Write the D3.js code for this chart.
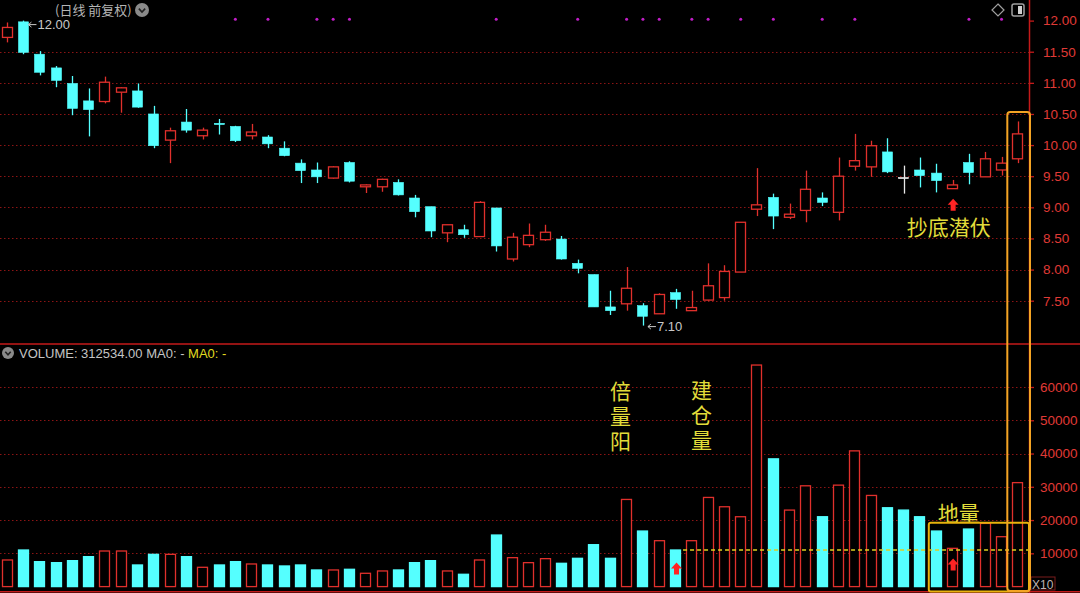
<!DOCTYPE html>
<html><head><meta charset="utf-8">
<script src="https://cdn.jsdelivr.net/npm/d3@7"></script>
<style>html,body{margin:0;padding:0;background:#000;overflow:hidden}</style>
</head><body><svg id="c" width="1080" height="593"></svg>
<script>
// ---------- DATA ----------
const openP  = [11.73,11.98,11.46,11.24,10.99,10.71,10.70,10.85,10.87,10.50,10.08,10.37,10.15,10.35,10.30,10.15,10.13,9.95,9.71,9.60,9.47,9.72,9.33,9.33,9.40,9.15,9.01,8.59,8.64,8.53,8.99,8.17,8.40,8.48,8.49,8.10,7.92,7.40,7.45,7.42,7.29,7.63,7.34,7.51,7.55,7.96,8.97,9.16,8.84,8.95,9.15,8.92,9.66,9.65,9.89,9.48,9.60,9.55,9.30,9.72,9.49,9.60,9.78];
const highP  = [11.97,12.00,11.51,11.27,11.11,10.91,11.10,10.93,10.99,10.63,10.28,10.58,10.28,10.42,10.31,10.34,10.16,10.06,9.77,9.72,9.66,9.74,9.37,9.46,9.45,9.20,9.01,8.72,8.72,9.10,8.99,8.59,8.74,8.72,8.54,8.16,7.92,7.66,8.04,7.46,7.62,7.69,7.66,8.10,8.07,8.76,9.63,9.22,9.06,9.59,9.24,9.80,10.18,10.07,10.11,9.67,9.80,9.70,9.44,9.86,9.89,9.81,10.38];
const lowP   = [11.65,11.46,11.12,10.93,10.48,10.14,10.67,10.52,10.60,9.95,9.71,10.20,10.09,10.17,10.05,10.09,9.95,9.82,9.39,9.39,9.46,9.40,9.23,9.25,9.19,8.84,8.52,8.44,8.51,8.53,8.29,8.13,8.36,8.46,8.16,7.94,7.40,7.27,7.34,7.10,7.29,7.37,7.34,7.50,7.50,7.96,8.86,8.65,8.81,8.76,9.02,8.79,9.59,9.49,9.55,9.22,9.32,9.24,9.30,9.37,9.49,9.51,9.71];
const closeP = [11.89,11.49,11.17,11.04,10.59,10.57,11.01,10.92,10.61,9.99,10.23,10.24,10.24,10.33,10.07,10.21,10.02,9.83,9.59,9.49,9.65,9.42,9.36,9.45,9.20,8.93,8.62,8.72,8.56,9.08,8.38,8.52,8.55,8.60,8.17,8.02,7.40,7.34,7.70,7.25,7.60,7.52,7.39,7.74,7.97,8.76,9.04,8.86,8.89,9.29,9.08,9.50,9.75,9.99,9.57,9.48,9.51,9.43,9.36,9.56,9.78,9.71,10.18];
const volume = [8000,11000,7500,7200,7800,9000,10700,10700,6500,9700,9700,9000,5800,6500,7500,6800,6500,6200,6500,5000,5000,5200,4000,4700,5000,7200,7800,4700,3700,8000,15500,8700,7200,8400,7000,8500,12600,8500,26200,16700,13800,11000,13800,26800,24000,21000,66600,38400,23000,30300,21000,30500,40800,27400,23700,23000,21000,16700,11500,17300,19000,15000,31253.4];
const priceTicks = [12.00,11.50,11.00,10.50,10.00,9.50,9.00,8.50,8.00,7.50];
const priceGrid  = [11.50,11.00,10.50,10.00,9.50,9.00,8.50,8.00,7.50];
const volTicks   = [10000,20000,30000,40000,50000,60000];
const eventDots  = [14,16,19,20,21,30,35,38,39,40,42,43,45,47,50,52,59,61];
const volMultiplier = 10;

// ---------- LAYOUT ----------
const W = 1080, H = 593;
const axisX = 1029;
const svg = d3.select("#c");
const idx = d3.range(openP.length);
const x = d3.scaleBand().domain(idx).range([-1, 1026]).paddingInner(0.32).paddingOuter(0.16);
const bw = x.bandwidth();
const cx = i => x(i) + bw / 2;
const y = d3.scaleLinear().domain([7.5, 12]).range([300.7, 20.6]);
const yv = d3.scaleLinear().domain([0, 60000]).range([586.6, 387]);

const RED = "#e0302c", CYAN = "#55ffff", GRID = "#8c1414", AXIS = "#c41a1a", LBL = "#e03a36";
const YEL = "#e2dc3a";
const latin = "'Liberation Sans', Arial, sans-serif";
const cjk = "'Noto Sans CJK SC', sans-serif";

svg.append("rect").attr("width", W).attr("height", H).attr("fill", "#000");

// grids
svg.append("g").selectAll("line").data(priceGrid).join("line")
  .attr("x1", 0).attr("x2", axisX).attr("y1", d => Math.round(y(d)) + 0.5).attr("y2", d => Math.round(y(d)) + 0.5)
  .attr("stroke", GRID).attr("stroke-dasharray", "1.5,2.5");
svg.append("g").selectAll("line").data(volTicks).join("line")
  .attr("x1", 0).attr("x2", axisX).attr("y1", d => Math.round(yv(d)) + 0.5).attr("y2", d => Math.round(yv(d)) + 0.5)
  .attr("stroke", GRID).attr("stroke-dasharray", "1.5,2.5");

// divider & bottom lines
svg.append("line").attr("x1", 0).attr("x2", W).attr("y1", 344).attr("y2", 344).attr("stroke", AXIS).attr("stroke-width", 1.5);
svg.append("line").attr("x1", 0).attr("x2", W).attr("y1", 591.8).attr("y2", 591.8).attr("stroke", AXIS).attr("stroke-width", 1.5);

// event dots
svg.append("g").selectAll("circle").data(eventDots).join("circle")
  .attr("cx", d => cx(d)).attr("cy", 19.3).attr("r", 1.5).attr("fill", "#c21ec8");

// candles
const kind = i => closeP[i] > openP[i] ? "up" : (closeP[i] < openP[i] ? "down" : "doji");
const col = i => kind(i) === "up" ? RED : (kind(i) === "down" ? CYAN : "#e8e8e8");
const cg = svg.append("g");
cg.selectAll("line.w").data(idx).join("line").attr("class", "w")
  .attr("x1", i => Math.round(cx(i)) + 0.5).attr("x2", i => Math.round(cx(i)) + 0.5)
  .attr("y1", i => y(highP[i])).attr("y2", i => y(lowP[i]))
  .attr("stroke", col).attr("stroke-width", 1.3);
cg.selectAll("rect").data(idx).join("rect")
  .attr("x", i => Math.round(x(i)) + 0.5)
  .attr("y", i => y(Math.max(openP[i], closeP[i])))
  .attr("width", Math.round(bw) - 1)
  .attr("height", i => Math.max(1.2, y(Math.min(openP[i], closeP[i])) - y(Math.max(openP[i], closeP[i]))))
  .attr("fill", i => kind(i) === "up" ? "#000" : col(i))
  .attr("stroke", col).attr("stroke-width", i => kind(i) === "up" ? 1.3 : 0.6);

// volume bars
svg.append("g").selectAll("rect").data(idx).join("rect")
  .attr("x", i => Math.round(x(i)) + 0.5)
  .attr("y", i => yv(volume[i]))
  .attr("width", Math.round(bw) - 1)
  .attr("height", i => yv(0) - yv(volume[i]))
  .attr("fill", i => kind(i) === "up" ? "#000" : CYAN)
  .attr("stroke", i => kind(i) === "up" ? RED : CYAN).attr("stroke-width", 1.3);

// axis line
svg.append("line").attr("x1", axisX + 0.5).attr("x2", axisX + 0.5).attr("y1", 0).attr("y2", H).attr("stroke", AXIS).attr("stroke-width", 1.5);

// right axes
function styleAxis(g) {
  g.select(".domain").remove();
  g.selectAll(".tick line").attr("stroke", AXIS).attr("stroke-width", 1.3);
  g.selectAll(".tick text").attr("fill", LBL).attr("font-size", 13.5).attr("font-family", latin);
}
svg.append("g").attr("transform", `translate(${axisX},0)`)
  .call(d3.axisRight(y).tickValues(priceTicks).tickFormat(d3.format(".2f")).tickSize(5).tickPadding(9))
  .call(styleAxis);
svg.append("g").attr("transform", `translate(${axisX},0)`)
  .call(d3.axisRight(yv).tickValues(volTicks).tickFormat(d3.format("d")).tickSize(5).tickPadding(6))
  .call(styleAxis);

// X10 box
svg.append("rect").attr("x", axisX + 2).attr("y", 577).attr("width", 24).attr("height", 13)
  .attr("fill", "none").attr("stroke", "#7a1c1c").attr("stroke-width", 1);
svg.append("text").attr("x", axisX + 3).attr("y", 588.5).text("X" + volMultiplier)
  .attr("fill", "#bfb3b3").attr("font-size", 12).attr("font-family", latin);

// header
svg.append("text").attr("x", 55).attr("y", 14.5).text("(日线 前复权)")
  .attr("fill", "#b4b4b4").attr("font-size", 13).attr("font-family", cjk);
function chevron(px, py, r) {
  svg.append("circle").attr("cx", px).attr("cy", py).attr("r", r).attr("fill", "#8a8a8a");
  svg.append("path").attr("d", `M${px - r * 0.45},${py - r * 0.2} L${px},${py + r * 0.3} L${px + r * 0.45},${py - r * 0.2}`)
    .attr("fill", "none").attr("stroke", "#222").attr("stroke-width", 1.6);
}
chevron(142, 10, 7);
chevron(8, 353, 6);
// top-right icons
svg.append("path").attr("d", "M998,4 L1004,10 L998,16 L992,10 Z").attr("fill", "none").attr("stroke", "#a0a0a0").attr("stroke-width", 1.2);
svg.append("rect").attr("x", 1012).attr("y", 4).attr("width", 12).attr("height", 12).attr("rx", 2)
  .attr("fill", "none").attr("stroke", "#a0a0a0").attr("stroke-width", 1.5);
svg.append("rect").attr("x", 1018).attr("y", 6).attr("width", 4).attr("height", 8).attr("fill", "#d0d0d0");

// volume header
const vh = svg.append("text").attr("x", 19).attr("y", 358).attr("font-size", 13).attr("font-family", latin);
vh.append("tspan").attr("fill", "#c4c4c4").text("VOLUME: " + d3.format(".2f")(volume[volume.length - 1] * volMultiplier) + " MA0: - ");
vh.append("tspan").attr("fill", "#e0dc20").text("MA0: -");

// high / low labels
const iHigh = d3.maxIndex(highP), iLow = d3.minIndex(lowP);
function extLabel(i, py, txt, dy) {
  const x0 = cx(i) + 5, x1 = cx(i) + 13;
  svg.append("path").attr("d", `M${x1},${py + dy} L${x0},${py + dy} M${x0 + 3},${py + dy - 2.5} L${x0},${py + dy} L${x0 + 3},${py + dy + 2.5}`)
    .attr("fill", "none").attr("stroke", "#c8c8c8").attr("stroke-width", 1);
  svg.append("text").attr("x", x1 + 1).attr("y", py + dy + 4.5).text(txt)
    .attr("fill", "#c8c8c8").attr("font-size", 13).attr("font-family", latin);
}
extLabel(iHigh, y(highP[iHigh]), d3.format(".2f")(highP[iHigh]), 4);
extLabel(iLow, y(lowP[iLow]), d3.format(".2f")(lowP[iLow]), 1);

// annotations
function vText(chars, px, topY) {
  svg.append("text").attr("x", px).attr("y", topY)
    .style("writing-mode", "vertical-rl").style("letter-spacing", "4px")
    .attr("fill", YEL).attr("font-size", 21).attr("font-family", cjk).text(chars);
}
vText("倍量阳", cx(38) - 6, 380.5);
vText("建仓量", cx(43) - 6.5, 379.5);
svg.append("text").attr("x", cx(58) - 4).attr("y", 225.5).text("抄底潜伏")
  .attr("text-anchor", "middle").attr("dominant-baseline", "central")
  .attr("fill", YEL).attr("font-size", 21).attr("font-family", cjk);
svg.append("text").attr("x", cx(58) + 6).attr("y", 511.5).text("地量")
  .attr("text-anchor", "middle").attr("dominant-baseline", "central")
  .attr("fill", YEL).attr("font-size", 21).attr("font-family", cjk);

// dashed level line at volume of bar 41
svg.append("line").attr("x1", x(41) + bw + 2).attr("x2", axisX).attr("y1", yv(volume[41])).attr("y2", yv(volume[41]))
  .attr("stroke", "#e0d020").attr("stroke-width", 1.4).attr("stroke-dasharray", "4,3");

// red arrows
function upArrow(px, top) {
  svg.append("path").attr("d", `M${px},${top} L${px + 5.5},${top + 6} L${px + 2.5},${top + 6} L${px + 2.5},${top + 12} L${px - 2.5},${top + 12} L${px - 2.5},${top + 6} L${px - 5.5},${top + 6} Z`)
    .attr("fill", "#ff2424");
}
upArrow(cx(58) + 0.5, y(lowP[58]) + 10);
upArrow(cx(41) + 1, yv(0) - 24);
upArrow(cx(58) + 0.5, yv(0) - 28);

// boxes
svg.append("rect").attr("x", x(57) - 2).attr("y", yv(19200)).attr("width", axisX - (x(57) - 2)).attr("height", 591.5 - yv(19200))
  .attr("rx", 2).attr("fill", "none").attr("stroke", "#e8b20c").attr("stroke-width", 2);
svg.append("rect").attr("x", x(62) - 5).attr("y", y(highP[62]) - 9.5).attr("width", axisX + 1 - (x(62) - 5)).attr("height", 591 - (y(highP[62]) - 9.5))
  .attr("rx", 3).attr("fill", "none").attr("stroke", "#f4a424").attr("stroke-width", 2);
</script></body></html>
